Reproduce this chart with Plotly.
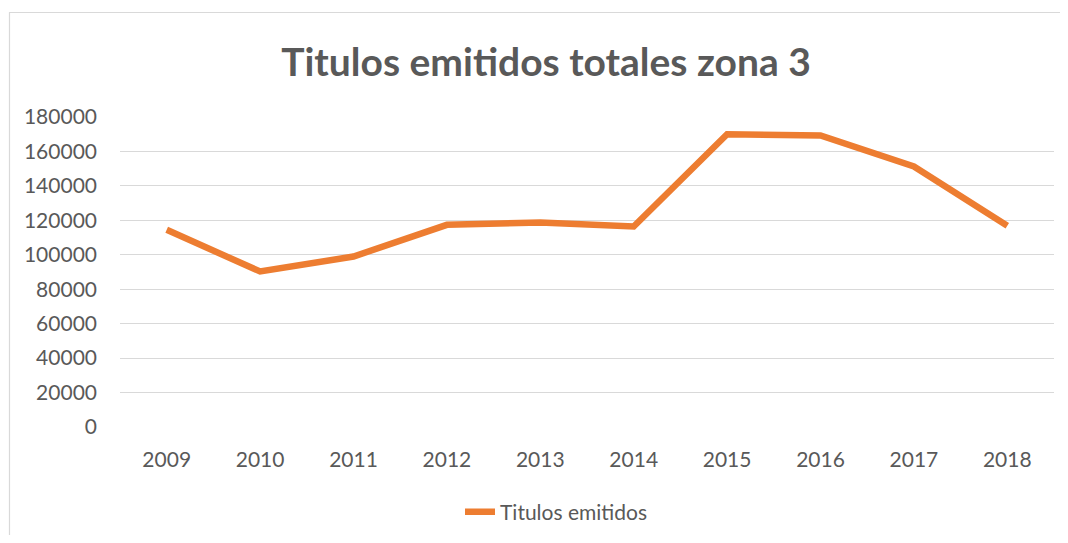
import plotly.graph_objects as go

years = ["2009", "2010", "2011", "2012", "2013", "2014", "2015", "2016", "2017", "2018"]
titulos = [114500, 90300, 99000, 117400, 118800, 116400, 170000, 169300, 151300, 116900]
y_ticks = [0, 20000, 40000, 60000, 80000, 100000, 120000, 140000, 160000, 180000]

FONT = "Lato, 'Open Sans', sans-serif"
GREY = "#595959"

# page body has an 8px margin, so the figure is drawn 8px inside the window
OFF = 8
W, H = 1068 - 2 * OFF, 543 - 2 * OFF
# plot area in window coordinates: x 120..1054, y 117..427
L = 120 - OFF
R = W - (1054 - OFF)
T = 117 - OFF
B = H - (427 - OFF)
pw, ph = W - L - R, H - T - B

def px(x):  # window x -> paper
    return (x - OFF - L) / pw

def py(y):  # window y -> paper
    return (H - B - (y - OFF)) / ph

fig = go.Figure()
fig.add_trace(go.Scatter(
    x=years, y=titulos, mode="lines", name="Titulos emitidos",
    line=dict(color="#ED7D31", width=6.5),
))

fig.update_layout(
    width=W, height=H,
    margin=dict(l=L, r=R, t=T, b=B, autoexpand=False),
    paper_bgcolor="white", plot_bgcolor="white",
    font=dict(family=FONT, color=GREY, size=21),
    title=dict(text="<b>Titulos emitidos totales zona 3</b>", x=px(546), xref="paper",
               xanchor="center", y=1 - (62 - OFF) / H, yanchor="middle",
               font=dict(size=39, color=GREY, family=FONT)),
    xaxis=dict(type="category", range=[-0.5, len(years) - 0.5], showgrid=False,
               zeroline=False, showline=False, ticks="", automargin=False,
               tickfont=dict(size=21, color=GREY), ticklabelstandoff=18),
    yaxis=dict(range=[0, 180000], tickvals=y_ticks, ticktext=[str(v) for v in y_ticks],
               showgrid=True, gridcolor="#D9D9D9", gridwidth=1.3, zeroline=False,
               showline=False, ticks="", tickfont=dict(size=21, color=GREY),
               ticklabelstandoff=22, automargin=False),
    showlegend=True,
    legend=dict(orientation="h", x=px(460), xanchor="left", y=py(512), yanchor="middle",
                font=dict(size=21, color=GREY), bgcolor="rgba(0,0,0,0)"),
    shapes=[dict(type="rect", xref="paper", yref="paper",
                 x0=px(9.5), x1=px(1090), y0=py(580), y1=py(12.5),
                 line=dict(color="#D9D9D9", width=1.2), fillcolor="rgba(0,0,0,0)",
                 layer="below")],
)

fig.write_html("out.html")
